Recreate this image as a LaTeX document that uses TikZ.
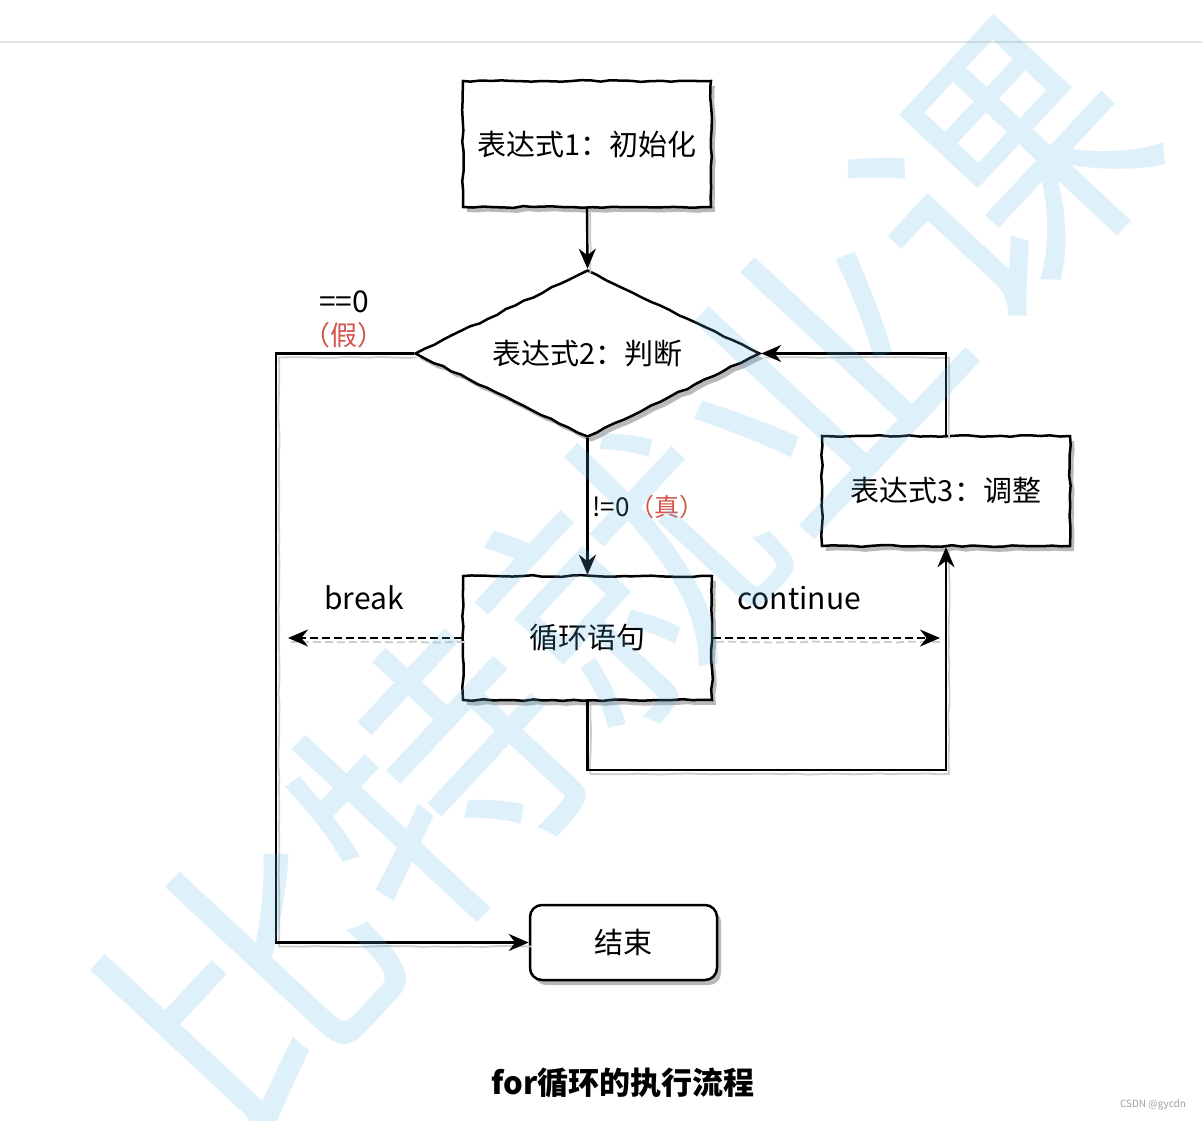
\documentclass[tikz,border=0pt]{standalone}
\usepackage{fontspec}
\setmainfont{Noto Sans CJK SC}
\usetikzlibrary{arrows.meta,shapes.geometric,decorations.pathmorphing,shadows}
\definecolor{wmk}{RGB}{90,180,230}
\definecolor{redlbl}{RGB}{212,84,74}
\definecolor{rulegray}{RGB}{226,226,226}
\begin{document}
\begin{tikzpicture}[x=1pt,y=-1pt,
  sketch/.style={decorate, decoration={random steps, segment length=10pt, amplitude=0.9pt}},
  lightsketch/.style={decorate, decoration={random steps, segment length=12pt, amplitude=0.6pt}},
  boxbase/.style={draw=black, line width=2.5pt, fill=white, inner sep=0pt,
    font=\fontsize{29}{34}\selectfont,
    general shadow={fill=gray!55, shadow xshift=4pt, shadow yshift=-5pt}},
  box/.style={boxbase, sketch},
  dia/.style={box, shape=diamond, minimum width=345pt, minimum height=167pt, aspect=2.07},
  tip/.tip={Stealth[length=20pt,width=17pt]},
  conn/.style={line width=2.4pt, -tip},
  dconn/.style={conn, dashed, dash pattern=on 8pt off 4pt},
  shade/.style={draw=gray!40, line width=1.8pt, lightsketch},
  lbl/.style={font=\fontsize{30}{34}\selectfont, inner sep=0pt}
]
\useasboundingbox (0,0) rectangle (1202,1121);
\fill[white] (0,0) rectangle (1202,1121);
\draw[rulegray, line width=2pt] (0,42) -- (1202,42);

% nodes
\node[box, minimum width=248pt, minimum height=126pt] (b1) at (587,144) {表达式1：初始化};
\node[dia] (d2) at (587.5,353.5) {表达式2：判断};
\node[box, minimum width=248pt, minimum height=110pt] (b3) at (946,491) {表达式3：调整};
\node[box, minimum width=249pt, minimum height=124pt] (b4) at (587.5,638) {循环语句};
\node[boxbase, rounded corners=12pt, minimum width=187pt, minimum height=75pt] (b5) at (623.5,942.5) {结束};

\coordinate (lft) at (276,0);
\coordinate (low) at (0,770);
\coordinate (brk) at (288,638);
\coordinate (cnt) at (940,638);

% connector shadows
\begin{scope}[transform canvas={xshift=3pt,yshift=-4pt}]
  \draw[shade] (b1.south) -- (d2.north);
  \draw[shade] (b4.south) -- (b4.south |- low) -| (b3.south);
  \draw[shade] (b3.north) |- (d2.east);
  \draw[shade] (d2.west) -- (d2.west -| lft) -- (b5.west -| lft) -- (b5.west);
  \draw[shade, dashed, dash pattern=on 8pt off 4pt] (b4.west) -- (brk);
  \draw[shade, dashed, dash pattern=on 8pt off 4pt] (b4.east) -- (cnt);
\end{scope}

% connectors
\draw[conn] (b1.south) -- (d2.north);
\draw[conn] (d2.south) -- (b4.north);
\draw[conn] (b4.south) -- (b4.south |- low) -| (b3.south);
\draw[conn] (b3.north) |- (d2.east);
\draw[conn] (d2.west) -- (d2.west -| lft) -- (b5.west -| lft) -- (b5.west);
\draw[dconn] (b4.west) -- (brk);
\draw[dconn] (b4.east) -- (cnt);

% labels
\node[lbl] (l0) at (344,302) {==0};
\node[lbl, text=redlbl, font=\fontsize{27}{30}\selectfont] (lf) at (344,335) {（假）};
\node[lbl, anchor=west, font=\fontsize{26}{30}\selectfont] (lt) at (592,507) {!=0{\color{redlbl}\fontsize{25}{30}\selectfont（真）}};
\node[lbl] (lb) at (364,598) {break};
\node[lbl] (lc) at (799,598) {continue};

\node[font=\fontsize{31}{36}\selectfont\bfseries, inner sep=0pt] (cap) at (623,1083) {for循环的执行流程};
\node[text=gray!75, font=\fontsize{10}{12}\selectfont, inner sep=0pt] (csdn) at (1153,1105) {CSDN @gycdn};

% watermark
\node[text=wmk, text opacity=0.2, rotate=47, font=\fontsize{276}{276}\selectfont, inner sep=0pt] (wm) at (627,576) {比特就业课};
\end{tikzpicture}
\end{document}
